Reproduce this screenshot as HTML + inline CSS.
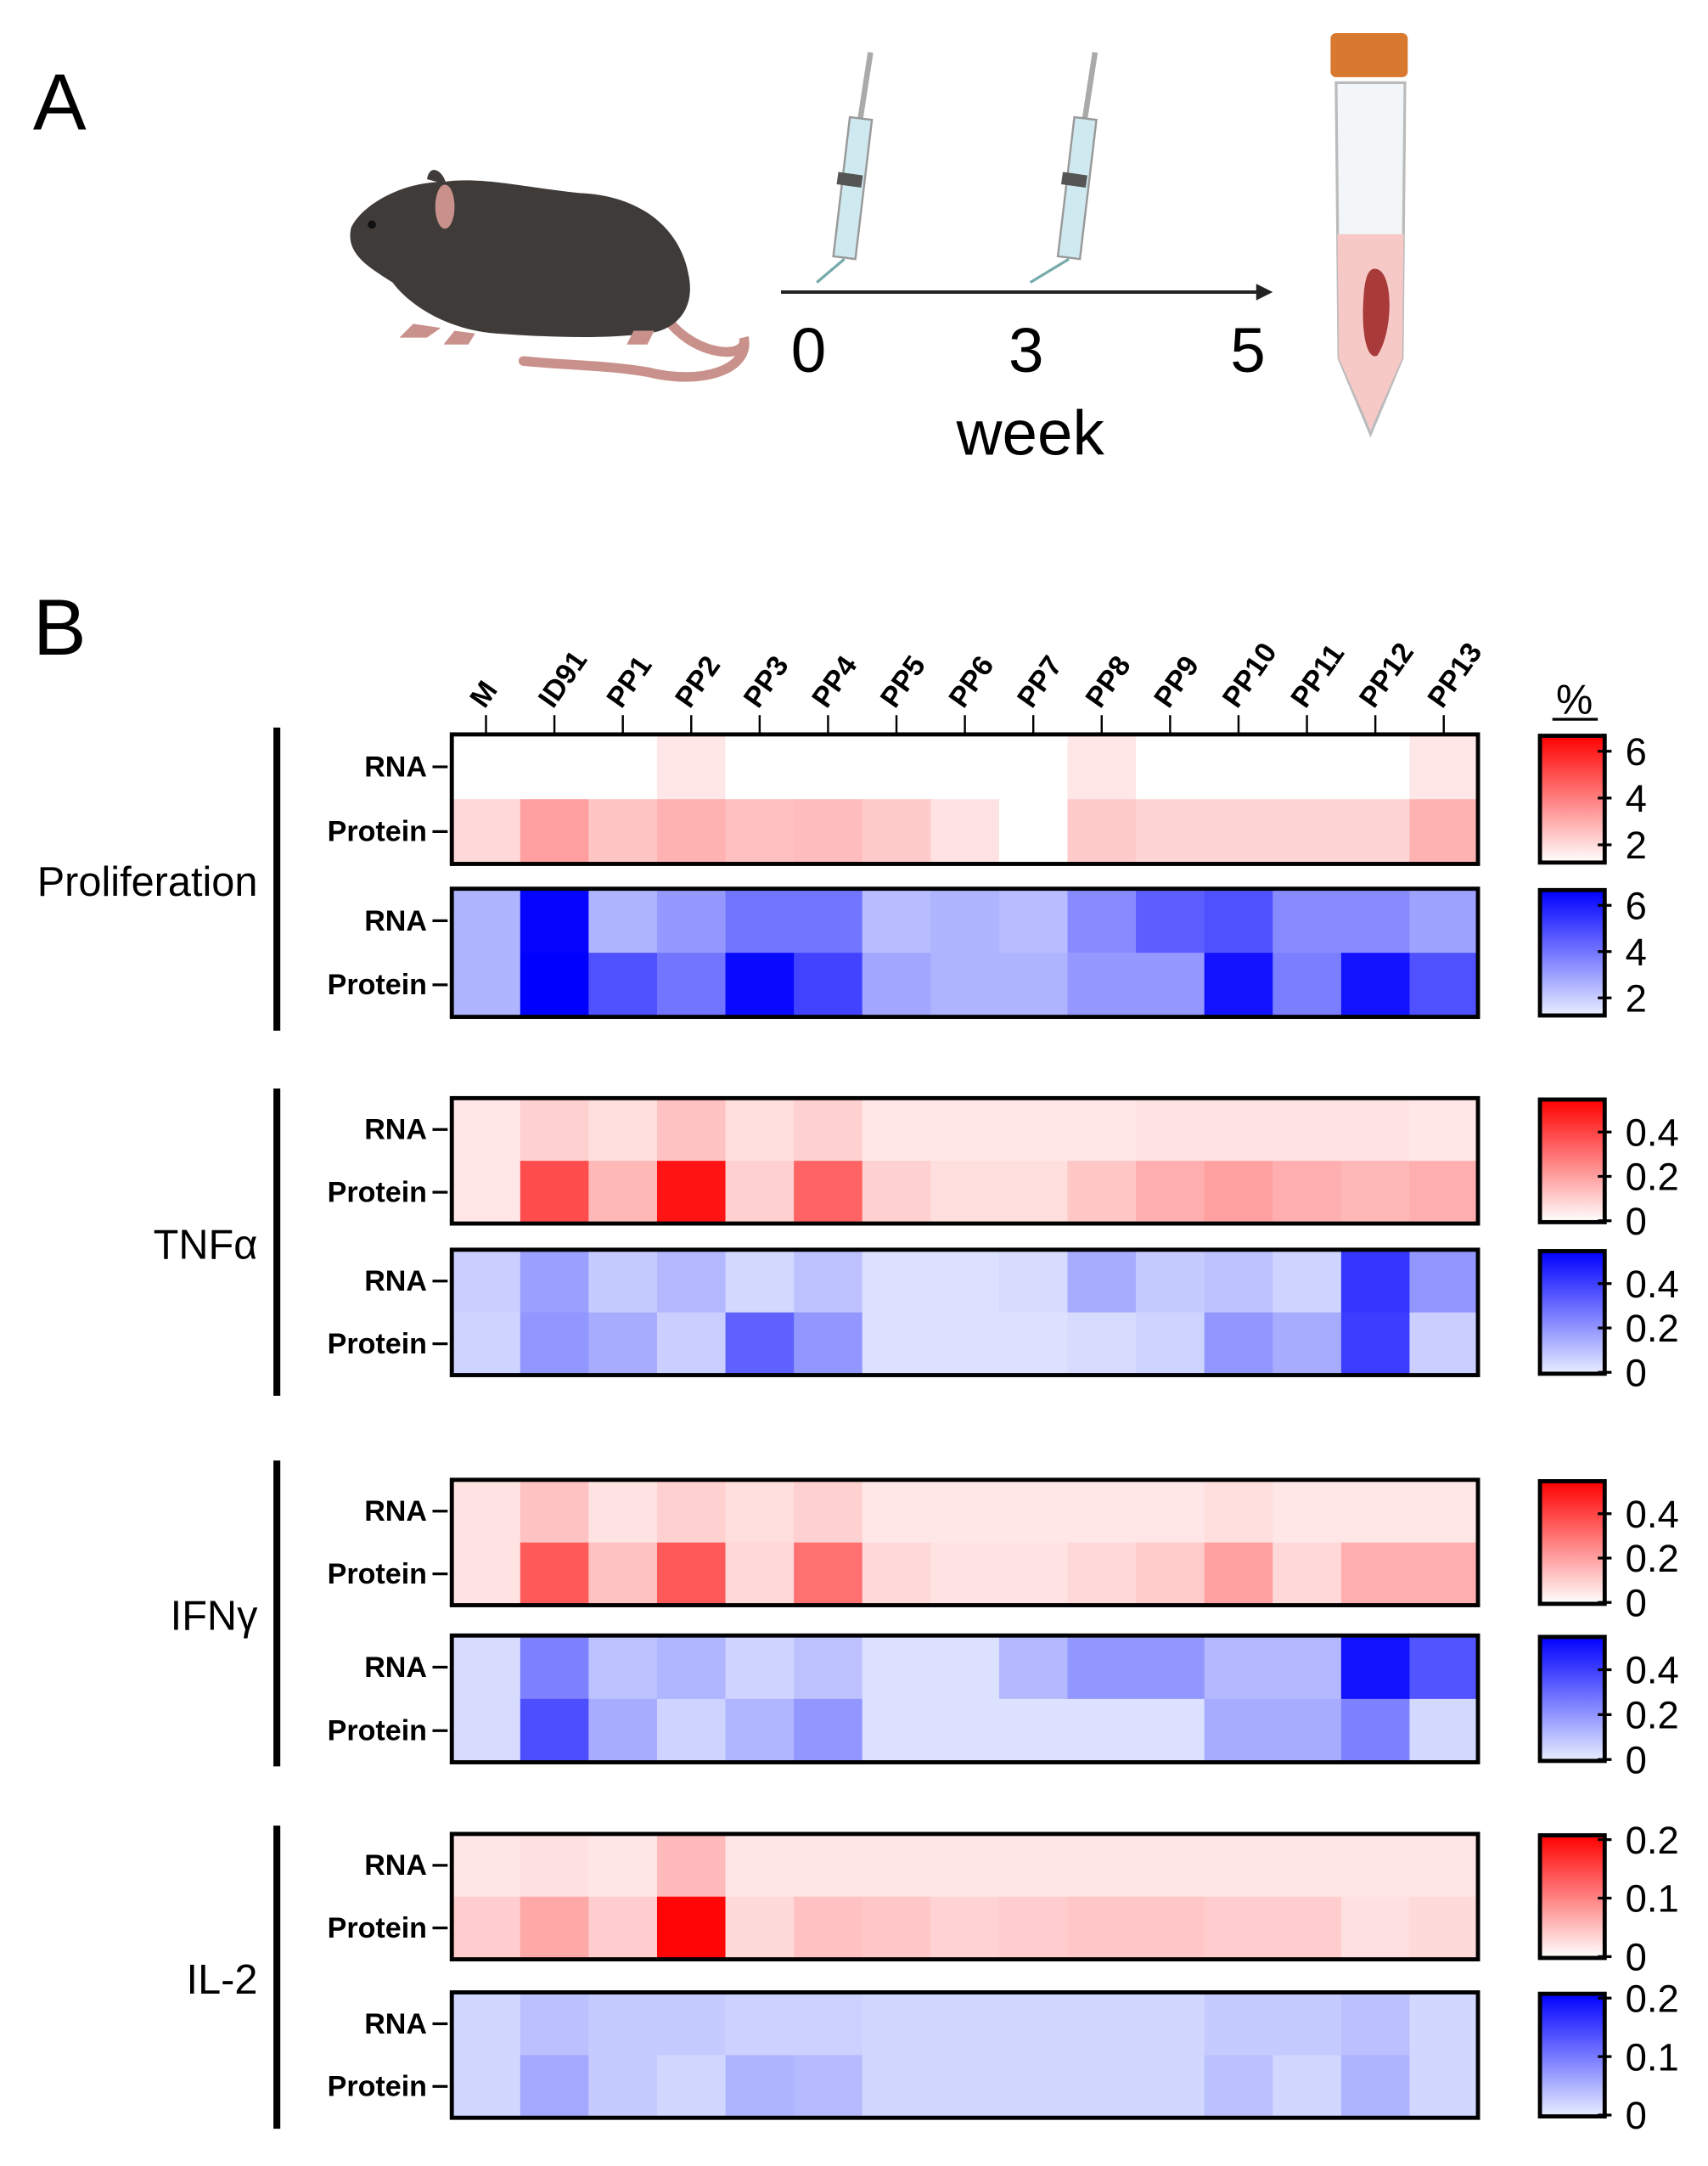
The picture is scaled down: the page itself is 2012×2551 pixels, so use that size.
<!DOCTYPE html>
<html><head><meta charset="utf-8"><style>
html,body{margin:0;padding:0;background:#fff;}
svg{display:block;}
text{font-family:"Liberation Sans",Arial,sans-serif;}
</style></head><body>
<svg id="fig" width="2012" height="2551" viewBox="0 0 1240 1572" preserveAspectRatio="none" xmlns="http://www.w3.org/2000/svg">
<rect width="1240" height="1572" fill="#fff"/>
<g>
<text x="24" y="94" font-size="58">A</text>
<g>
<path d="M480,225 C500,260 545,262 540,245 C545,268 510,280 470,270 C440,265 410,265 380,262" fill="none" stroke="#c9918c" stroke-width="7" stroke-linecap="round"/>
<path d="M255,165 C262,150 290,132 322,132 C350,128 380,136 420,140 C470,142 495,170 500,200 C505,225 490,240 470,242 C440,246 400,245 360,242 C330,240 300,225 285,205 C270,195 250,185 255,165Z" fill="#3f3b39"/>
<path d="M310,130 C312,118 322,124 324,134Z" fill="#3f3b39"/>
<ellipse cx="323" cy="150" rx="7" ry="16" fill="#c9918c"/>
<circle cx="270" cy="163" r="3" fill="#111"/>
<path d="M300,235 L290,245 L310,245 L320,238Z M330,240 L322,250 L340,250 L345,242Z M460,240 L455,250 L470,250 L475,240Z" fill="#c9918c"/>
</g>
<g>
<line x1="632" y1="38" x2="624" y2="90" stroke="#aaa" stroke-width="4"/>
<path d="M617,85 L633,87 L621,188 L605,186Z" fill="#cfe9f0" stroke="#999" stroke-width="1.5"/>
<rect x="608" y="126" width="18" height="9" fill="#555" transform="rotate(8 617 130)"/>
<line x1="613" y1="188" x2="593" y2="205" stroke="#7aa" stroke-width="2"/>
</g>
<g>
<line x1="795" y1="38" x2="787" y2="90" stroke="#aaa" stroke-width="4"/>
<path d="M780,85 L796,87 L784,188 L768,186Z" fill="#cfe9f0" stroke="#999" stroke-width="1.5"/>
<rect x="771" y="126" width="18" height="9" fill="#555" transform="rotate(8 780 130)"/>
<line x1="776" y1="188" x2="748" y2="205" stroke="#7aa" stroke-width="2"/>
</g>
<line x1="567" y1="212" x2="915" y2="212" stroke="#222" stroke-width="2.5"/>
<path d="M912,206 L924,212 L912,218Z" fill="#222"/>
<text x="587" y="270" font-size="46" text-anchor="middle">0</text>
<text x="745" y="270" font-size="46" text-anchor="middle">3</text>
<text x="906" y="270" font-size="46" text-anchor="middle">5</text>
<text x="748" y="330" font-size="46" text-anchor="middle">week</text>
<g>
<path d="M970,60 L1020,60 L1018,260 L995,315 L972,260Z" fill="#f2f6f8" stroke="#bbb" stroke-width="2"/>
<path d="M971,170 L1019,170 L1018,260 L995,312 L972,260Z" fill="#f6c8c6"/>
<path d="M998,195 C1012,195 1012,240 1000,258 C992,262 988,240 990,215 C991,200 994,195 998,195Z" fill="#a83a3a"/>
<rect x="966" y="24" width="56" height="32" rx="4" fill="#d9782f"/>
</g>
</g>
<text x="24" y="475" font-size="58">B</text>
<g id="heat"></g>
</svg>
<script>
const categories = ["M","ID91","PP1","PP2","PP3","PP4","PP5","PP6","PP7","PP8","PP9","PP10","PP11","PP12","PP13"];
const rowLabels = ["RNA","Protein"];
const groupNames = ["Proliferation","TNF\u03b1","IFN\u03b3","IL-2"];
const prolifRedRNA = [0,0,0,1.8,0,0,0,0,0,1.8,0,0,0,0,1.8];
const prolifRedProtein = [2.1,3.3,2.5,2.9,2.6,2.7,2.4,1.9,0,2.4,2.2,2.2,2.2,2.2,2.9];
const prolifBlueRNA = [2.6,6.5,2.6,3.2,4.0,4.0,2.4,2.6,2.4,3.5,4.5,4.8,3.5,3.5,3.0];
const prolifBlueProtein = [2.6,6.6,4.8,4.0,6.4,5.1,2.9,2.6,2.6,3.2,3.2,6.2,3.8,6.2,4.8];
const tnfRedRNA = [0.05,0.1,0.07,0.13,0.07,0.1,0.05,0.05,0.05,0.05,0.06,0.06,0.06,0.06,0.05];
const tnfRedProtein = [0.05,0.38,0.15,0.5,0.1,0.33,0.1,0.07,0.07,0.12,0.17,0.2,0.17,0.15,0.17];
const tnfBlueRNA = [0.07,0.18,0.08,0.12,0.05,0.1,0.03,0.03,0.04,0.15,0.08,0.1,0.06,0.42,0.2];
const tnfBlueProtein = [0.06,0.2,0.15,0.07,0.32,0.2,0.03,0.03,0.03,0.04,0.06,0.2,0.15,0.4,0.07];
const ifnRedRNA = [0.06,0.13,0.06,0.1,0.07,0.1,0.05,0.05,0.05,0.05,0.05,0.07,0.05,0.05,0.05];
const ifnRedProtein = [0.06,0.35,0.13,0.35,0.08,0.3,0.08,0.06,0.06,0.08,0.11,0.2,0.08,0.17,0.17];
const ifnBlueRNA = [0.04,0.25,0.1,0.13,0.06,0.1,0.03,0.03,0.12,0.2,0.2,0.12,0.12,0.5,0.35];
const ifnBlueProtein = [0.04,0.36,0.15,0.06,0.13,0.2,0.03,0.03,0.03,0.03,0.03,0.15,0.15,0.25,0.05];
const il2RedRNA = [0.02,0.025,0.02,0.055,0.02,0.02,0.02,0.02,0.02,0.02,0.02,0.02,0.02,0.02,0.02];
const il2RedProtein = [0.04,0.07,0.04,0.2,0.03,0.05,0.045,0.035,0.04,0.045,0.045,0.04,0.04,0.025,0.03];
const il2BlueRNA = [0.02,0.04,0.03,0.03,0.025,0.025,0.02,0.02,0.02,0.02,0.02,0.03,0.03,0.04,0.02];
const il2BlueProtein = [0.02,0.06,0.03,0.02,0.05,0.045,0.02,0.02,0.02,0.02,0.02,0.04,0.02,0.05,0.02];
const prolifTicks = [2,4,6];
const cytoTicks = [0,0.2,0.4];
const il2Ticks = [0,0.1,0.2];

const NS="http://www.w3.org/2000/svg";
const root=document.getElementById('heat');
function mk(tag,attrs,parent){const e=document.createElementNS(NS,tag);for(const k in attrs)e.setAttribute(k,attrs[k]);(parent||root).appendChild(e);return e;}
const x0=328,x1=1073;
const cw=(x1-x0)/categories.length;
function xScale(i){return x0+i*cw;}
function lerp(a,b,t){return Math.round(a+(b-a)*t);}
function color(v,min,max,blue){let t=(v-min)/(max-min);t=Math.max(0,Math.min(1,t));
 if(blue) return `rgb(${lerp(232,0,t)},${lerp(238,0,t)},${lerp(255,255,t)})`;
 return `rgb(255,${lerp(255,0,t)},${lerp(255,0,t)})`;}
const panels=[
 {g:0,top:533,h:94,rows:[prolifRedRNA,prolifRedProtein],blue:false,min:1.3,max:6.6,ticks:prolifTicks,id:'proliferation-red'},
 {g:0,top:645,h:93,rows:[prolifBlueRNA,prolifBlueProtein],blue:true,min:1.3,max:6.6,ticks:prolifTicks,id:'proliferation-blue'},
 {g:1,top:797,h:91,rows:[tnfRedRNA,tnfRedProtein],blue:false,min:0,max:0.54,ticks:cytoTicks,id:'tnf-red'},
 {g:1,top:907,h:91,rows:[tnfBlueRNA,tnfBlueProtein],blue:true,min:0,max:0.54,ticks:cytoTicks,id:'tnf-blue'},
 {g:2,top:1074,h:91,rows:[ifnRedRNA,ifnRedProtein],blue:false,min:0,max:0.54,ticks:cytoTicks,id:'ifn-red'},
 {g:2,top:1187,h:92,rows:[ifnBlueRNA,ifnBlueProtein],blue:true,min:0,max:0.54,ticks:cytoTicks,id:'ifn-blue'},
 {g:3,top:1331,h:91,rows:[il2RedRNA,il2RedProtein],blue:false,min:0,max:0.205,ticks:il2Ticks,id:'il2-red'},
 {g:3,top:1446,h:91,rows:[il2BlueRNA,il2BlueProtein],blue:true,min:0,max:0.205,ticks:il2Ticks,id:'il2-blue'}
];
categories.forEach((c,i)=>{
 const cx=xScale(i)+cw/2;
 const tk=mk('line',{x1:cx,y1:519,x2:cx,y2:533,stroke:'#000','stroke-width':1.5});
 
 
 const t=mk('text',{x:cx-1,y:515,'font-size':21,'font-weight':'bold',transform:`rotate(-55 ${cx-1} 515)`});
 t.textContent=c;
 
 
});
const pct=mk('text',{x:1143,y:518,'font-size':30,'text-anchor':'middle'});pct.textContent='%';


mk('line',{x1:1127,y1:522,x2:1160,y2:522,stroke:'#000','stroke-width':2});
panels.forEach(p=>{
 const rh=p.h/2;
 p.rows.forEach((vals,r)=>{
  vals.forEach((v,i)=>{
   const cell=mk('rect',{x:xScale(i),y:p.top+r*rh,width:cw+0.5,height:rh+0.5,fill:color(v,p.min,p.max,p.blue)});
   
   
  });
  const ly=p.top+r*rh+rh/2;
  const lab=mk('text',{x:310,y:ly+7,'font-size':21,'font-weight':'bold','text-anchor':'end'});lab.textContent=rowLabels[r];
  
  
  mk('line',{x1:314,y1:ly,x2:325,y2:ly,stroke:'#000','stroke-width':2});
 });
 const fr=mk('rect',{x:x0,y:p.top,width:x1-x0,height:p.h,fill:'none',stroke:'#000','stroke-width':3});
 
 
 const gid='grad-'+p.id;
 const defs=mk('defs',{});
 const lg=mk('linearGradient',{id:gid,x1:0,y1:1,x2:0,y2:0},defs);
 mk('stop',{offset:0,'stop-color':color(p.min,p.min,p.max,p.blue)},lg);
 mk('stop',{offset:1,'stop-color':color(p.max,p.min,p.max,p.blue)},lg);
 const cb=mk('rect',{x:1118,y:p.top+1,width:47,height:p.h-2,fill:`url(#${gid})`,stroke:'#000','stroke-width':3});
 
 
 p.ticks.forEach(tv=>{
  const ty=p.top+p.h-2-(tv-p.min)/(p.max-p.min)*(p.h-4);
  mk('line',{x1:1160,y1:ty,x2:1170,y2:ty,stroke:'#000','stroke-width':2});
  const tt=mk('text',{x:1180,y:ty+10,'font-size':28});tt.textContent=String(tv);
  
  
 });
});
const groupSpans=[[528,748],[790,1013],[1060,1282],[1325,1545]];
groupNames.forEach((n,g)=>{
 const [a,b]=groupSpans[g];
 const bar=mk('line',{x1:201,y1:a,x2:201,y2:b,stroke:'#000','stroke-width':5});
 
 
 const t=mk('text',{x:187,y:(a+b)/2+12,'font-size':30,'text-anchor':'end'});t.textContent=n;
 
 
});
</script>
</body></html>
